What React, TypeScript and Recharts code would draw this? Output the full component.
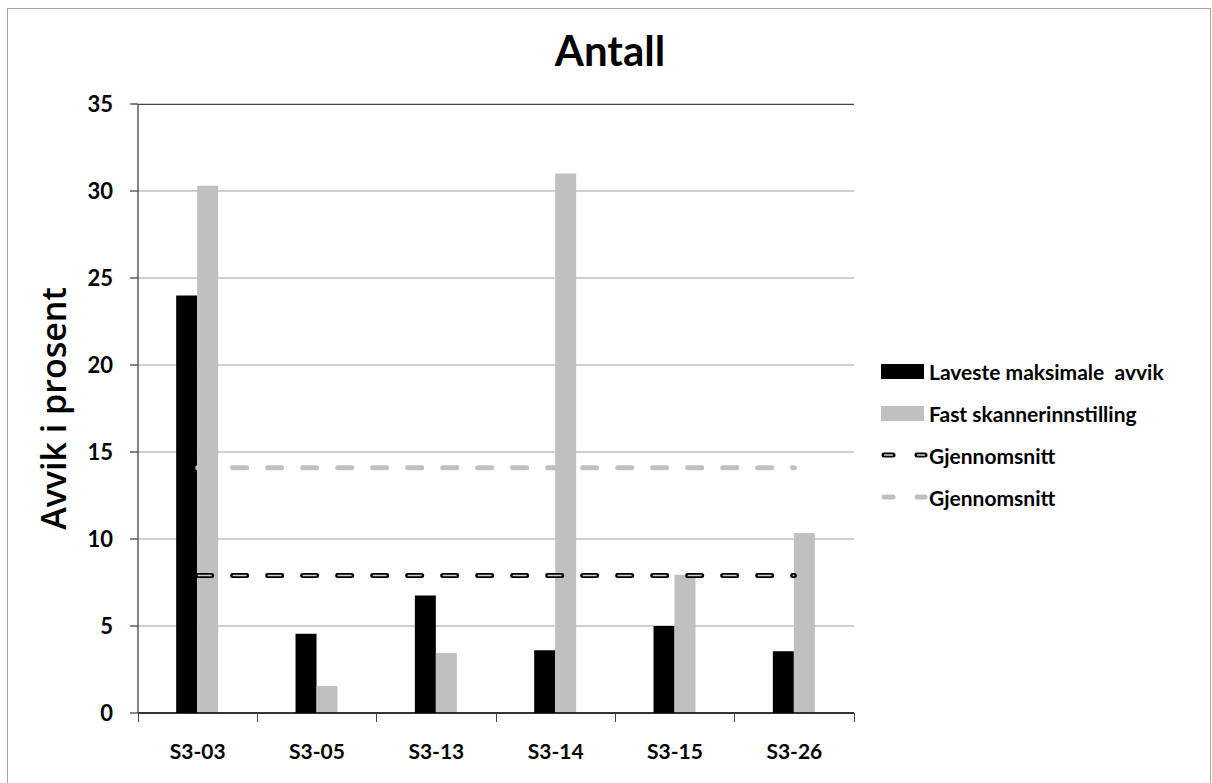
import React from "react";
import {
  ComposedChart,
  Bar,
  Line,
  XAxis,
  YAxis,
  CartesianGrid,
} from "recharts";

// Avvik i prosent per skanner
const categories = ["S3-03", "S3-05", "S3-13", "S3-14", "S3-15", "S3-26"];
const lavesteAvvik = [24.0, 4.55, 6.75, 3.6, 5.0, 3.55];
const fastInnstilling = [30.3, 1.55, 3.45, 31.0, 7.95, 10.35];
const snittLaveste = 7.9;
const snittFast = 14.1;
const yTicks = [0, 5, 10, 15, 20, 25, 30, 35];

const FONT = "Lato, 'Open Sans', sans-serif";
const BLACK = "#000000";
const GREY = "#c0c0c0";

const data = categories.map((name, i) => ({
  name,
  laveste: lavesteAvvik[i],
  fast: fastInnstilling[i],
  snittLaveste,
  snittFast,
}));

function LegendBox() {
  const row: React.CSSProperties = {
    display: "flex",
    alignItems: "center",
    height: 42,
    fontFamily: FONT,
    fontWeight: 700,
    fontSize: 21,
    color: "#000",
    whiteSpace: "nowrap",
  };
  const dashIcon = (outline: boolean) => (
    <svg width={48} height={14}>
      <line x1={3} y1={7} x2={12} y2={7} stroke={outline ? BLACK : GREY} strokeWidth={5} strokeLinecap="round" />
      <line x1={36} y1={7} x2={44} y2={7} stroke={outline ? BLACK : GREY} strokeWidth={5} strokeLinecap="round" />
      {outline && (
        <>
          <line x1={3} y1={7} x2={12} y2={7} stroke="#d0d0d0" strokeWidth={1.5} />
          <line x1={36} y1={7} x2={44} y2={7} stroke="#d0d0d0" strokeWidth={1.5} />
        </>
      )}
    </svg>
  );
  return (
    <div>
      <div style={row}>
        <div style={{ width: 43, height: 15, background: BLACK, marginRight: 5 }} />
        Laveste maksimale&nbsp; avvik
      </div>
      <div style={row}>
        <div style={{ width: 43, height: 15, background: GREY, marginRight: 5 }} />
        Fast skannerinnstilling
      </div>
      <div style={row}>
        {dashIcon(true)}
        Gjennomsnitt
      </div>
      <div style={row}>
        {dashIcon(false)}
        Gjennomsnitt
      </div>
    </div>
  );
}

function YLabel(props: any) {
  const vb = props.viewBox || {};
  const cy = vb.y + vb.height / 2;
  return (
    <text
      x={53}
      y={cy}
      transform={`rotate(-90, 53, ${cy})`}
      textAnchor="middle"
      dominantBaseline="central"
      fontFamily="'Open Sans', sans-serif"
      fontSize={34}
      fontWeight={600}
      fill="#000"
    >
      Avvik i prosent
    </text>
  );
}

export default function App() {
  return (
    <div style={{ position: "fixed", left: 0, top: 0, width: 1212, height: 783, overflow: "hidden", background: "#fff" }}>
      <div style={{ position: "absolute", left: 0, top: 0 }}>
        <ComposedChart
          width={1212}
          height={783}
          data={data}
          margin={{ top: 104, right: 358, bottom: 0, left: 0 }}
          barCategoryGap="32%"
          barGap={0}
        >
          <CartesianGrid vertical={false} stroke="#a0a0a0" strokeWidth={1.2} />
          <XAxis
            dataKey="name"
            axisLine={{ stroke: "#000", strokeWidth: 1.3 }}
            tickLine={false}
            tick={{ fontFamily: FONT, fontWeight: 700, fontSize: 21, fill: "#000", dy: 23 }}
            interval={0}
            height={70}
          />
          <YAxis
            domain={[0, 35]}
            ticks={yTicks}
            width={138}
            axisLine={{ stroke: "#444", strokeWidth: 1.3 }}
            tickLine={{ stroke: "#444", strokeWidth: 1.3 }}
            tickSize={8}
            tick={{ fontFamily: FONT, fontWeight: 700, fontSize: 22, fill: "#000", dx: -15 }}
            label={<YLabel />}
          />
          <YAxis
            yAxisId="right"
            orientation="right"
            domain={[0, 35]}
            width={0}
            tick={false}
            tickLine={false}
            axisLine={{ stroke: "#444", strokeWidth: 1.3 }}
          />
          <Bar dataKey="laveste" fill={BLACK} isAnimationActive={false} />
          <Bar dataKey="fast" fill={GREY} isAnimationActive={false} />
          <Line
            dataKey="snittFast"
            stroke={GREY}
            strokeWidth={5}
            strokeDasharray="14 21"
            strokeLinecap="round"
            dot={false}
            activeDot={false}
            isAnimationActive={false}
          />
          <Line
            dataKey="snittLaveste"
            stroke={BLACK}
            strokeWidth={5}
            strokeDasharray="14 21"
            strokeLinecap="round"
            dot={false}
            activeDot={false}
            isAnimationActive={false}
          />
          <Line
            dataKey="snittLaveste"
            stroke="#d0d0d0"
            strokeWidth={1.5}
            strokeDasharray="14 21"
            dot={false}
            activeDot={false}
            isAnimationActive={false}
          />
        </ComposedChart>
      </div>
      <div
        style={{
          position: "absolute",
          left: 0,
          top: 26,
          width: 1212,
          fontFamily: FONT,
          fontWeight: 700,
          fontSize: 42,
          lineHeight: "48px",
        }}
      >
        <span style={{ position: "absolute", left: 610, transform: "translateX(-50%)" }}>Antall</span>
      </div>
      <div style={{ position: "absolute", left: 881, top: 350, width: 330 }}>
        <LegendBox />
      </div>
      {/* top frame line of the plot area */}
      <div style={{ position: "absolute", left: 138, top: 103.5, width: 716, height: 0, borderTop: "1.3px solid #444" }} />
      {/* x tick marks between categories */}
      {categories.concat([""]).map((_, i) => (
        <div
          key={i}
          style={{
            position: "absolute",
            left: 137.5 + (716 / categories.length) * i,
            top: 713,
            width: 0,
            height: 9,
            borderLeft: "1.3px solid #444",
          }}
        />
      ))}
      {/* outer chart frame */}
      <div
        style={{
          position: "absolute",
          left: 7,
          top: 8,
          width: 1202,
          height: 800,
          border: "1.5px solid #a6a6a6",
          pointerEvents: "none",
        }}
      />
    </div>
  );
}
